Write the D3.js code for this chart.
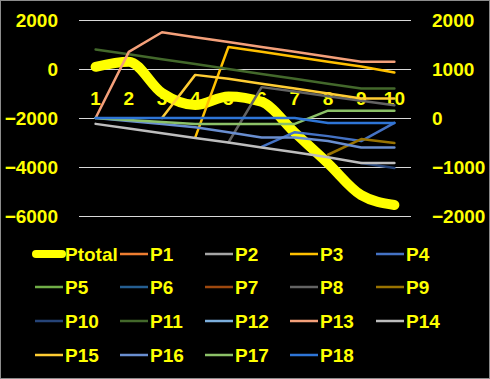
<!DOCTYPE html>
<html><head><meta charset="utf-8">
<script src="https://cdn.jsdelivr.net/npm/d3@7"></script>
<style>
html,body{margin:0;padding:0;background:#000;}
svg{display:block;}
</style></head>
<body>
<svg id="chart" width="490" height="379"></svg>
<script>
// ---------- DATA ----------
const categories = ["1","2","3","4","5","6","7","8","9","10"];
const leftTicks = [2000, 0, -2000, -4000, -6000];
const rightTicks = [2000, 1000, 0, -1000, -2000];

const ptotal = [90, 300, -980, -1470, -1120, -1340, -2600, -3850, -5150, -5550];

const seriesNames = ["P1","P2","P3","P4","P5","P6","P7","P8","P9","P10","P11","P12","P13","P14","P15","P16","P17","P18"];
const seriesColors = ["#ED7D31","#A5A5A5","#FFC000","#4472C4","#70AD47","#255E91","#9E480E","#636363","#997300","#264478","#43682B","#7CAFDD","#F4A07A","#BDBDBD","#FFCD33","#698ED0","#8CC168","#2E75D6"];

const p1  = [null,null,null,null,null,null,null,null,null,null];
const p2  = [null,null,null,null,null,null,null,null,null,null];
const p3  = [null,null,null,-400,1450,1350,1250,1150,1050,930];
const p4  = [null,null,null,null,null,-590,-290,-370,-470,-100];
const p5  = [null,null,null,null,null,null,null,null,null,null];
const p6  = [null,null,null,null,null,null,null,null,null,null];
const p7  = [null,null,null,null,null,null,null,null,null,null];
const p8  = [null,null,null,null,-500,630,540,445,350,260];
const p9  = [null,null,null,null,null,null,null,-750,-430,-510];
const p10 = [null,null,null,null,null,null,null,null,-920,-1020];
const p11 = [1400,1300,1200,1100,1000,900,800,700,600,600];
const p12 = [null,null,null,null,null,null,null,null,null,null];
const p13 = [0,1350,1750,1650,1550,1450,1350,1250,1150,1150];
const p14 = [-120,-215,-310,-410,-500,-600,-700,-800,-920,-920];
const p15 = [null,null,0,880,800,700,600,500,400,400];
const p16 = [0,-60,-120,-190,-290,-400,-400,-470,-600,-600];
const p17 = [0,-40,-80,-120,-120,-120,-120,150,150,150];
const p18 = [0,0,0,0,0,0,0,-100,-100,-100];
const seriesValues = [p1,p2,p3,p4,p5,p6,p7,p8,p9,p10,p11,p12,p13,p14,p15,p16,p17,p18];

// ---------- LAYOUT ----------
const svg = d3.select("#chart");
const W = 490, H = 379;
const plot = {left: 79, right: 411, top: 20, bottom: 216};
const FONT = "'Liberation Sans', Arial, sans-serif";
const YEL = "#FFFF00";

svg.append("rect").attr("x",0.5).attr("y",0.5).attr("width",W-1).attr("height",H-1)
  .attr("fill","#000").attr("stroke","#8c8c8c").attr("stroke-width",1);

const x = d3.scaleBand().domain(categories).range([plot.left, plot.right]).padding(0);
const cx = c => x(c) + x.bandwidth()/2;
const yL = d3.scaleLinear().domain([-6000, 2000]).range([plot.bottom, plot.top]);
const yR = d3.scaleLinear().domain([-2000, 2000]).range([plot.bottom, plot.top]);

// gridlines
const grid = svg.append("g").attr("transform",`translate(${plot.left},0)`)
  .call(d3.axisLeft(yL).tickValues(leftTicks).tickSize(-(plot.right-plot.left)).tickFormat(""));
grid.select(".domain").remove();
grid.selectAll("line").attr("stroke","#d9d9d9").attr("stroke-width",1);

// left axis labels
const la = svg.append("g").attr("transform",`translate(${plot.left},0)`)
  .call(d3.axisLeft(yL).tickValues(leftTicks).tickSize(0).tickPadding(21).tickFormat(d3.format("d")));
la.select(".domain").remove();
la.selectAll("text").attr("fill",YEL).style("font-family",FONT).style("font-size","19px").style("font-weight","bold");

// right axis labels
const ra = svg.append("g").attr("transform",`translate(${plot.right},0)`)
  .call(d3.axisRight(yR).tickValues(rightTicks).tickSize(0).tickPadding(21).tickFormat(d3.format("d")));
ra.select(".domain").remove();
ra.selectAll("text").attr("fill",YEL).style("font-family",FONT).style("font-size","19px").style("font-weight","bold");

// category labels
svg.append("g").selectAll("text").data(categories).join("text")
  .attr("x", d => cx(d)).attr("y", 105)
  .attr("text-anchor","middle").attr("fill",YEL)
  .style("font-family",FONT).style("font-size","19px").style("font-weight","bold")
  .text(d => d);

// Ptotal (primary axis, smoothed, thick)
const lineL = d3.line().defined(d => d.v != null).x(d => cx(d.c)).y(d => yL(d.v)).curve(d3.curveMonotoneX);
svg.append("path").datum(categories.map((c,i)=>({c, v: ptotal[i]})))
  .attr("d", lineL).attr("fill","none").attr("stroke",YEL).attr("stroke-width",10)
  .attr("stroke-linecap","round").attr("stroke-linejoin","round");

// P series (secondary axis)
const lineR = d3.line().defined(d => d.v != null).x(d => cx(d.c)).y(d => yR(d.v));
seriesValues.forEach((vals, k) => {
  svg.append("path").datum(categories.map((c,i)=>({c, v: vals[i]})))
    .attr("d", lineR).attr("fill","none").attr("stroke",seriesColors[k]).attr("stroke-width",2.5)
    .attr("stroke-linejoin","round").attr("stroke-linecap","round");
});

// legend
const legendItems = [{name:"Ptotal", color:YEL}].concat(seriesNames.map((n,k)=>({name:n, color:seriesColors[k]})));
const colX = [35, 120, 205, 290, 376];
const rowY = [254, 287, 321, 355];
const lg = svg.append("g");
legendItems.forEach((it, i) => {
  const col = i % 5, row = Math.floor(i / 5);
  const x0 = colX[col], y0 = rowY[row];
  const g = lg.append("g");
  if (i === 0) {
    g.append("line").attr("x1", x0+1).attr("x2", x0+27).attr("y1", y0).attr("y2", y0)
      .attr("stroke", it.color).attr("stroke-width", 8).attr("stroke-linecap","round");
  } else {
    g.append("line").attr("x1", x0).attr("x2", x0+28).attr("y1", y0).attr("y2", y0)
      .attr("stroke", it.color).attr("stroke-width", 2.5);
  }
  g.append("text").attr("x", x0+30).attr("y", y0+7).attr("fill",YEL)
    .style("font-family",FONT).style("font-size","19px").style("font-weight","bold")
    .text(it.name);
});
</script>
</body></html>
